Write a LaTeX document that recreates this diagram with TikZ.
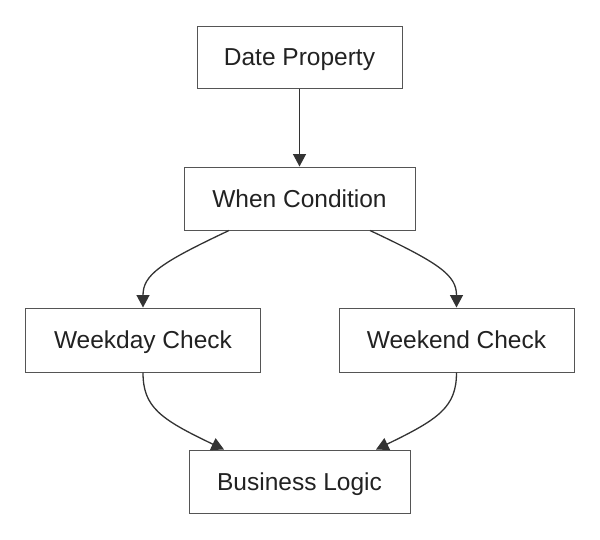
\documentclass[tikz,border=0pt]{standalone}
\usepackage{fontspec}
\setmainfont{Liberation Sans}
\usetikzlibrary{arrows.meta}
\definecolor{edgecol}{HTML}{333333}
\definecolor{boxcol}{HTML}{555555}
\definecolor{txtcol}{HTML}{222222}
\begin{document}
\begin{tikzpicture}[x=1pt,y=-1pt,
  box/.style={draw=boxcol,line width=1pt,fill=white,inner sep=0pt,text=txtcol,
    text height=17.5pt,text depth=0pt,
    font=\fontsize{24.5}{28}\selectfont},
  conn/.style={draw=edgecol,line width=1.3pt,-{Triangle[length=12.5pt,width=13pt]}}]
\useasboundingbox (0,0) rectangle (600,539);
\node[box,minimum width=205pt,minimum height=62pt] (dp) at (299.5,57) {Date Property};
\node[box,minimum width=231pt,minimum height=63pt] (wc) at (299.5,198.5) {When Condition};
\node[box,minimum width=235pt,minimum height=64pt] (wd) at (143,340) {Weekday Check};
\node[box,minimum width=235pt,minimum height=64pt] (we) at (456.5,340) {Weekend Check};
\node[box,minimum width=221pt,minimum height=63pt] (bl) at (299.5,481.5) {Business Logic};
\draw[conn] (dp) -- (wc);
\draw[conn] ([xshift=-70.5pt]wc.south) .. controls (160,263) and (143,275) .. (wd.north);
\draw[conn] ([xshift=70.5pt]wc.south) .. controls (439,263) and (456.5,275) .. (we.north);
\draw[conn] (wd.south) .. controls (143,407) and (160,419) .. ([xshift=-75.5pt]bl.north);
\draw[conn] (we.south) .. controls (456.5,407) and (439,419) .. ([xshift=76.5pt]bl.north);
\end{tikzpicture}
\end{document}
